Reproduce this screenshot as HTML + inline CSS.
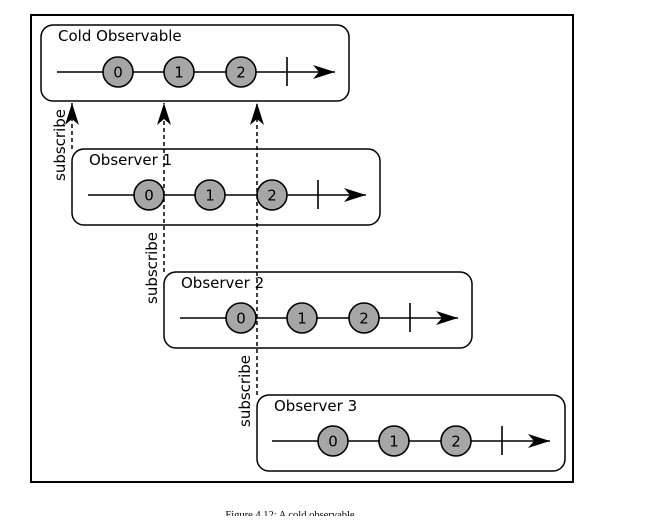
<!DOCTYPE html>
<html><head><style>body{margin:0;background:#fff}</style></head><body>
<svg width="653" height="516" xmlns="http://www.w3.org/2000/svg" font-family="DejaVu Sans, sans-serif">
<defs>
<marker id="ah" markerWidth="24" markerHeight="14" refX="22" refY="7" orient="auto" markerUnits="userSpaceOnUse">
<path d="M0,0 L22,7 L0,14 L6,7 Z" fill="#000"/></marker>
<g id="tl">
<line x1="0" y1="0" x2="278" y2="0" stroke="#000" stroke-width="1.5" marker-end="url(#ah)"/>
<circle cx="61" cy="0" r="15" fill="#a6a6a6" stroke="#000" stroke-width="1.6"/>
<circle cx="122" cy="0" r="15" fill="#a6a6a6" stroke="#000" stroke-width="1.6"/>
<circle cx="184" cy="0" r="15" fill="#a6a6a6" stroke="#000" stroke-width="1.6"/>
<text x="61" y="5.5" font-size="15" text-anchor="middle">0</text>
<text x="122" y="5.5" font-size="15" text-anchor="middle">1</text>
<text x="184" y="5.5" font-size="15" text-anchor="middle">2</text>
<line x1="230" y1="-15" x2="230" y2="14" stroke="#000" stroke-width="1.6"/>
</g>
</defs>
<rect x="31" y="15" width="542" height="467" fill="none" stroke="#000" stroke-width="2"/>
<rect x="41" y="25" width="308" height="76" rx="12" fill="#fff" stroke="#000" stroke-width="1.5"/>
<text x="58" y="41" font-size="15">Cold Observable</text>
<use href="#tl" x="57" y="72"/>
<rect x="72" y="149" width="308" height="76" rx="12" fill="none" stroke="#000" stroke-width="1.5"/>
<text x="89" y="165" font-size="15">Observer 1</text>
<use href="#tl" x="88" y="195"/>
<rect x="164" y="272" width="308" height="76" rx="12" fill="none" stroke="#000" stroke-width="1.5"/>
<text x="181" y="288" font-size="15">Observer 2</text>
<use href="#tl" x="180" y="318"/>
<rect x="257" y="395" width="308" height="76" rx="12" fill="none" stroke="#000" stroke-width="1.5"/>
<text x="274" y="411" font-size="15">Observer 3</text>
<use href="#tl" x="272" y="441"/>
<g stroke="#000" stroke-width="1.5" stroke-dasharray="4,3">
<line x1="72" y1="149" x2="72" y2="103" marker-end="url(#ah)"/>
<line x1="164" y1="272" x2="164" y2="103" marker-end="url(#ah)"/>
<line x1="257" y1="395" x2="257" y2="103" marker-end="url(#ah)"/>
</g>
<text transform="translate(65,145) rotate(-90)" font-size="15" text-anchor="middle">subscribe</text>
<text transform="translate(157,268) rotate(-90)" font-size="15" text-anchor="middle">subscribe</text>
<text transform="translate(250,391) rotate(-90)" font-size="15" text-anchor="middle">subscribe</text>
<text x="290" y="518" font-size="10.5" font-family="Liberation Serif, serif" text-anchor="middle">Figure 4.12: A cold observable</text>
</svg>
</body></html>
